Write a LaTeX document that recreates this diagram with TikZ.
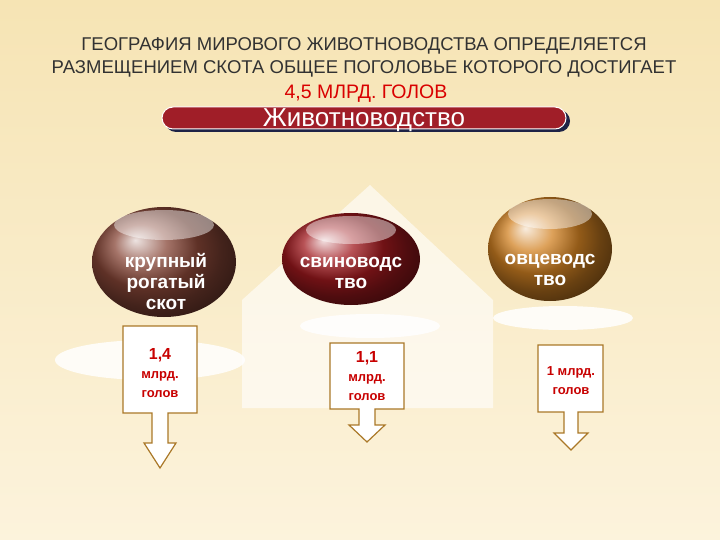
\documentclass[tikz,border=0pt]{standalone}
\usepackage{fontspec}
\setmainfont{Liberation Sans}
\begin{document}
\begin{tikzpicture}[x=1pt,y=-1pt,
  lbl/.style={text=white,font=\bfseries\fontsize{19}{21}\selectfont,align=center},
  plate/.style={fill=white,opacity=0.85},
  callout/.style={draw={rgb,255:red,170;green,120;blue,40},line width=1.2pt,fill=white},
  val/.style={text={rgb,255:red,200;green,0;blue,0},font=\bfseries\fontsize{13}{19}\selectfont,align=center}]
\definecolor{bgA}{RGB}{246,228,180}
\definecolor{bgB}{RGB}{252,243,220}
\definecolor{title}{RGB}{50,50,50}
\definecolor{ban}{RGB}{160,30,40}
\definecolor{navy}{RGB}{30,35,70}
\definecolor{cattle}{RGB}{135,70,55}
\definecolor{pig}{RGB}{160,25,30}
\definecolor{sheep}{RGB}{210,130,35}
\useasboundingbox (0,0) rectangle (720,540);
\shade[top color=bgA,bottom color=bgB] (0,0) rectangle (720,540);
\node[text=title,font=\fontsize{18.5}{23}\selectfont,align=center] (t) at (364,57) {ГЕОГРАФИЯ МИРОВОГО ЖИВОТНОВОДСТВА ОПРЕДЕЛЯЕТСЯ\\РАЗМЕЩЕНИЕМ СКОТА ОБЩЕЕ ПОГОЛОВЬЕ КОТОРОГО ДОСТИГАЕТ};
\node[text=red!85!black,font=\fontsize{19.5}{22}\selectfont] (t3) at (366,94) {4,5 МЛРД. ГОЛОВ};
\fill[navy,rounded corners=11pt] (165,110) rectangle (570,132);
\draw[rounded corners=11pt,fill=ban,draw=white,line width=1pt] (162,107) rectangle (566,129);
\node[text=white,font=\fontsize{26}{28}\selectfont] (ban) at (364,120) {Животноводство};
% house
\fill[white,opacity=0.6] (242,408) -- (242,300) -- (370,185) -- (493,300) -- (493,408) -- cycle;
\fill[plate] (150,360) ellipse (95 and 20);
\fill[plate] (370,326) ellipse (70 and 12);
\fill[plate] (563,318) ellipse (70 and 12);
% balls
\shade[ball color=cattle] (164,262) ellipse (72 and 55);
\shade[ball color=pig] (351,259) ellipse (69 and 46);
\shade[ball color=sheep] (550,249) ellipse (62 and 52);
\fill[white,opacity=0.45] (164,225) ellipse (50 and 15);
\fill[white,opacity=0.45] (351,230) ellipse (45 and 14);
\fill[white,opacity=0.45] (550,214) ellipse (42 and 15);
\node[lbl] (b1) at (166,282) {крупный\\рогатый\\скот};
\node[lbl] (b2) at (351,273) {свиноводс\\тво};
\node[lbl] (b3) at (550,270) {овцеводс\\тво};
% callouts
\draw[callout] (123,326) -- (197,326) -- (197,413) -- (168,413) -- (168,443) -- (176,443) -- (160,468) -- (144,443) -- (152,443) -- (152,413) -- (123,413) -- cycle;
\draw[callout] (330,343) -- (404,343) -- (404,409) -- (375,409) -- (375,425) -- (385,425) -- (367,442) -- (349,425) -- (359,425) -- (359,409) -- (330,409) -- cycle;
\draw[callout] (538,345) -- (603,345) -- (603,412) -- (578,412) -- (578,433) -- (588,433) -- (571,450) -- (554,433) -- (564,433) -- (564,412) -- (538,412) -- cycle;
\node[val] (v1) at (160,373) {{\fontsize{16}{18}\selectfont 1,4}\\млрд.\\голов};
\node[val] (v2) at (367,376) {{\fontsize{16}{18}\selectfont 1,1}\\млрд.\\голов};
\node[val] (v3) at (571,381) {1 млрд.\\голов};
\end{tikzpicture}
\end{document}
